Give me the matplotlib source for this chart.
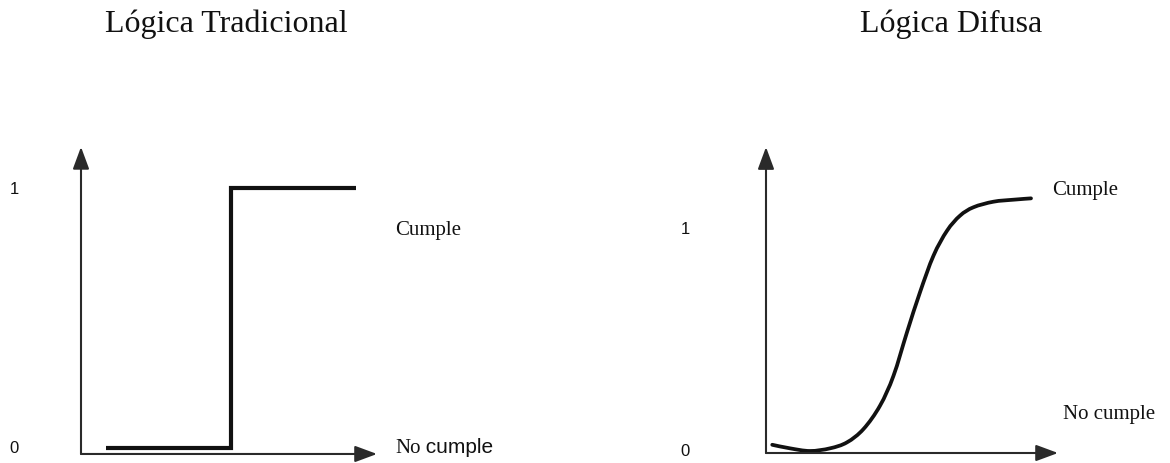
import matplotlib
matplotlib.use("Agg")
import matplotlib.pyplot as plt
from matplotlib.path import Path
from matplotlib.patches import PathPatch
from matplotlib.offsetbox import TextArea, HPacker, AnnotationBbox

# Crisp (classical) membership: step from "no cumple" to "cumple"
crisp_x = [1, 6, 6, 11]
crisp_y = [0, 0, 1, 1]

# Fuzzy membership: smooth S-shaped transition
fuzzy_x = [0.25, 0.96, 1.76, 2.56, 3.24, 3.9, 4.56, 5.1, 5.64, 6.16,
           6.7, 7.24, 7.76, 8.3, 9.1, 9.9, 10.6]
fuzzy_y = [0.028, 0.012, 0.0, 0.012, 0.039, 0.099, 0.204, 0.339, 0.535,
           0.715, 0.88, 0.992, 1.06, 1.098, 1.123, 1.132, 1.138]

titles = ["Lógica Tradicional", "Lógica Difusa"]
tick_labels = ["0", "1"]
label_yes = "Cumple"
label_no_a = "No"
label_no_b = " cumple"

SERIF = "Liberation Serif"
SANS = "Liberation Sans"
INK = "#111111"
AXIS = "#2a2a2a"

W, H = 1170, 464
fig = plt.figure(figsize=(W / 100, H / 100), dpi=100)
fig.patch.set_facecolor("white")

ax1 = fig.add_axes([0.0, 0.0, 0.5, 1.0])
ax2 = fig.add_axes([0.5, 0.0, 0.5, 1.0])

# left panel scale: 25 px per x unit, 260 px per membership unit
ax1.set_xlim(-3.24, -3.24 + 585 / 25)
ax1.set_ylim(-(464 - 449) / 260, 449 / 260)
# right panel scale: 25 px per x unit, 222 px per membership unit
ax2.set_xlim(-7.24, -7.24 + 585 / 25)
ax2.set_ylim(-(464 - 452) / 222, 452 / 222)

for ax in (ax1, ax2):
    ax.set_axis_off()


def draw_axes(ax, y_base, x_tip, y_tip):
    arrow = dict(arrowstyle="-|>,head_length=1.35,head_width=0.5",
                 mutation_scale=10, lw=1.5, color=AXIS,
                 shrinkA=0, shrinkB=0)
    ax.annotate("", xy=(0, y_tip), xytext=(0, y_base), arrowprops=arrow)
    ax.annotate("", xy=(x_tip, y_base), xytext=(0, y_base), arrowprops=arrow)


def smooth_path(xs, ys):
    """Catmull-Rom curve through the points, as cubic Bezier segments."""
    pts = list(zip(xs, ys))
    verts = [pts[0]]
    codes = [Path.MOVETO]
    n = len(pts)
    for i in range(n - 1):
        p0 = pts[i - 1] if i > 0 else pts[i]
        p1 = pts[i]
        p2 = pts[i + 1]
        p3 = pts[i + 2] if i + 2 < n else pts[i + 1]
        c1 = (p1[0] + (p2[0] - p0[0]) / 6, p1[1] + (p2[1] - p0[1]) / 6)
        c2 = (p2[0] - (p3[0] - p1[0]) / 6, p2[1] - (p3[1] - p1[1]) / 6)
        verts += [c1, c2, p2]
        codes += [Path.CURVE4] * 3
    return Path(verts, codes)


draw_axes(ax1, -0.023, 11.84, 1.158)
draw_axes(ax2, -0.009, 11.68, 1.369)

ax1.plot(crisp_x, crisp_y, color=INK, lw=3.0,
         solid_capstyle="butt", solid_joinstyle="miter")
ax2.add_patch(PathPatch(smooth_path(fuzzy_x, fuzzy_y), facecolor="none",
                        edgecolor=INK, lw=2.7, capstyle="round",
                        joinstyle="round"))

# 0 / 1 labels
for ax, xl in ((ax1, -2.68), (ax2, -3.24)):
    for v, t in zip([0, 1], tick_labels):
        ax.text(xl, v, t, family=SANS, fontsize=12, color=INK,
                ha="center", va="center")

# "Cumple" labels
ax1.text(12.56, 0.842, label_yes, family=SERIF, fontsize=15, color=INK,
         ha="left", va="center")
ax2.text(11.44, 1.18, label_yes, family=SERIF, fontsize=15, color=INK,
         ha="left", va="center")

# "No cumple" labels
box = HPacker(children=[
    TextArea(label_no_a, textprops=dict(family=SERIF, fontsize=15, color=INK)),
    TextArea(label_no_b, textprops=dict(family=SANS, fontsize=15, color=INK)),
], align="baseline", pad=0, sep=0)
ab = AnnotationBbox(box, (12.56, 0.004), xycoords="data",
                    box_alignment=(0, 0.5), frameon=False, pad=0)
ax1.add_artist(ab)
ax2.text(11.88, 0.167, label_no_a + " cumple", family=SERIF, fontsize=15,
         color=INK, ha="left", va="center")

# panel titles
fig.text(226 / W, 1 - 32 / H, titles[0], family=SERIF, fontsize=23,
         color=INK, ha="center", va="baseline")
fig.text(951 / W, 1 - 32 / H, titles[1], family=SERIF, fontsize=23,
         color=INK, ha="center", va="baseline")

fig.savefig("out.png", dpi=100, facecolor="white")
